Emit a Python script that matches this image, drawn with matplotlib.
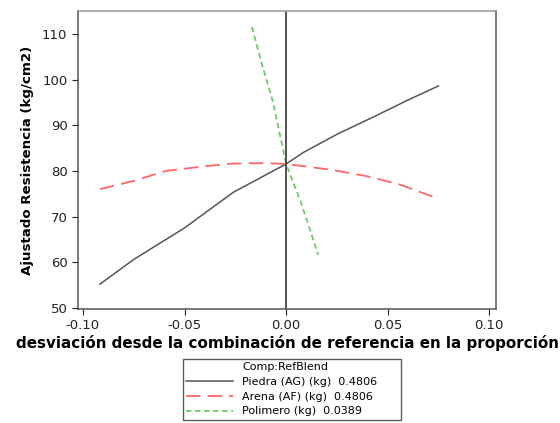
import matplotlib
matplotlib.use("Agg")
import matplotlib.pyplot as plt
from matplotlib.lines import Line2D

# data
piedra_x = [-0.0916, -0.075, -0.05, -0.026, 0.0, 0.0084, 0.025, 0.043, 0.06, 0.075]
piedra_y = [55.2, 60.6, 67.5, 75.3, 81.5, 84.0, 88.0, 91.8, 95.5, 98.6]
arena_x = [-0.0916, -0.075, -0.059, -0.04, -0.026, -0.01, 0.0, 0.023, 0.04, 0.056, 0.075]
arena_y = [76.0, 77.8, 80.0, 81.0, 81.6, 81.7, 81.5, 80.2, 78.8, 77.0, 73.9]
polim_x = [-0.0168, -0.012, -0.0064, 0.0, 0.0069, 0.0115, 0.0158]
polim_y = [111.5, 103.5, 95.0, 81.5, 73.6, 67.5, 61.6]

xticks = [-0.10, -0.05, 0.00, 0.05, 0.10]
yticks = [50, 60, 70, 80, 90, 100, 110]
labels = ["Piedra (AG) (kg)  0.4806", "Arena (AF) (kg)  0.4806", "Polimero (kg)  0.0389"]

fig = plt.figure(figsize=(5.6, 4.23), dpi=100)
ax = fig.add_axes([0.139, 0.27, 0.747, 0.704])

ax.plot(piedra_x, piedra_y, color='#555555', lw=1.1)
ax.plot(arena_x, arena_y, color='#ff6666', lw=1.3, dashes=(8, 4))
ax.plot(polim_x, polim_y, color='#66cc66', lw=1.3, dashes=(3, 2))
ax.axvline(0, color='#444444', lw=1.3)

ax.set_xlim(-0.1025, 0.1034)
ax.set_ylim(49.8, 115.0)
ax.set_xticks(xticks)
ax.set_xticklabels(['%.2f' % t for t in xticks])
ax.set_yticks(yticks)
ax.tick_params(direction='out', length=4, labelsize=9.5, colors='#222222')
for s in ax.spines.values():
    s.set_color('#555555')
    s.set_linewidth(1.1)
ax.spines['top'].set_color('#999999')

ax.set_xlabel('desviación desde la combinación de referencia en la proporción',
              fontsize=10.9, fontweight='bold', labelpad=2)
ax.set_ylabel('Ajustado Resistencia (kg/cm2)', fontsize=9.6, fontweight='bold', labelpad=6)

handles = [Line2D([], [], color='none'),
           Line2D([], [], color='#555555', lw=1.1),
           Line2D([], [], color='#ff6666', lw=1.3, dashes=(8, 4)),
           Line2D([], [], color='#66cc66', lw=1.3, dashes=(3, 2))]
leg = fig.legend(handles, ['Comp:RefBlend'] + [l + '      ' for l in labels],
                 loc='upper left', bbox_to_anchor=(0.327, 0.151), fontsize=8,
                 frameon=True, fancybox=False, edgecolor='#333333',
                 handlelength=4.2, labelspacing=0.42, borderpad=0.3,
                 borderaxespad=0)
leg.get_frame().set_linewidth(1.0)

fig.savefig('out.png', dpi=100)
